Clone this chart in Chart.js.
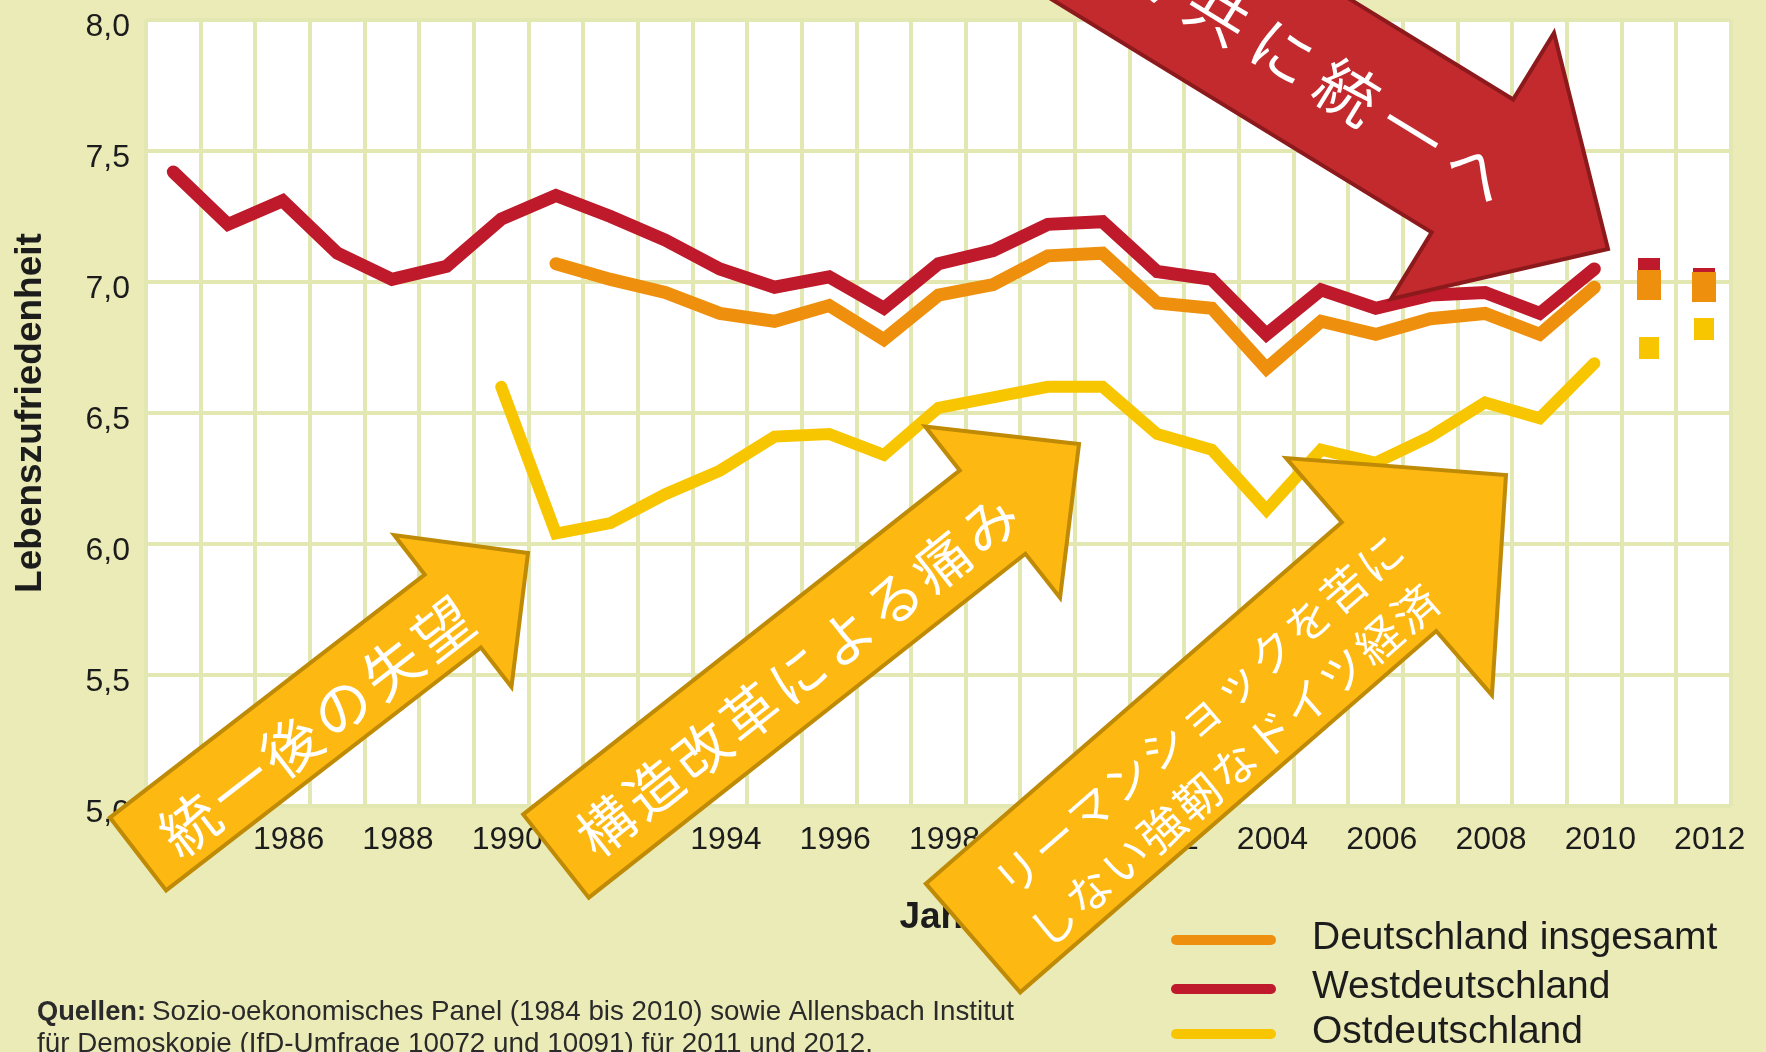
<!DOCTYPE html>
<html>
<head>
<meta charset="utf-8">
<title>Lebenszufriedenheit in Deutschland</title>
<script src="https://cdn.jsdelivr.net/npm/chart.js@4.4.1/dist/chart.umd.min.js"></script>
<style>
  html, body { margin: 0; padding: 0; background: #ebebb7; }
  #wrap { width: 1766px; height: 1052px; }
</style>
</head>
<body>
<div id="wrap"><canvas id="chart" width="1766" height="1052"></canvas></div>
<script>
// categories
const years = ['1984', '1985', '1986', '1987', '1988', '1989', '1990', '1991', '1992', '1993',
  '1994', '1995', '1996', '1997', '1998', '1999', '2000', '2001', '2002', '2003', '2004',
  '2005', '2006', '2007', '2008', '2009', '2010', '2011', '2012'];

// SOEP series (first year given separately)
const westStart = '1984';
const west = [7.42, 7.22, 7.31, 7.11, 7.01, 7.06, 7.24, 7.33, 7.25, 7.16, 7.05, 6.98, 7.02, 6.90,
  7.07, 7.12, 7.22, 7.23, 7.04, 7.01, 6.80, 6.97, 6.90, 6.95, 6.96, 6.88, 7.05];
const gesamtStart = '1991';
const gesamt = [7.07, 7.01, 6.96, 6.88, 6.85, 6.91, 6.78, 6.95, 6.99, 7.10, 7.11, 6.92, 6.90,
  6.67, 6.85, 6.80, 6.86, 6.88, 6.80, 6.98];
const ostStart = '1990';
const ost = [6.60, 6.04, 6.08, 6.19, 6.28, 6.41, 6.42, 6.34, 6.52, 6.56, 6.60, 6.60, 6.42, 6.36,
  6.13, 6.36, 6.31, 6.41, 6.54, 6.48, 6.69];

// Allensbach survey points
const surveyYears = ['2011', '2012'];
const westSurvey = [7.04, 7.00];
const gesamtSurvey = [6.99, 6.98];
const ostSurvey = [6.75, 6.82];

const yTicks = [5.0, 5.5, 6.0, 6.5, 7.0, 7.5, 8.0];

const RED = '#be1a2b';
const ORANGE = '#ee900e';
const YELLOW = '#f8c600';
const GRID = '#e3e8b3';
const INK = '#1c1c1c';
const SANS = "'Liberation Sans', Arial, sans-serif";
const JP = "'Noto Sans CJK JP', sans-serif";

function series(start, values) {
  const i0 = years.indexOf(start);
  return values.map((v, i) => ({ x: years[i0 + i], y: v }));
}

function box(w, h, color) {
  const c = document.createElement('canvas');
  c.width = w; c.height = h;
  const g = c.getContext('2d');
  g.fillStyle = color;
  g.fillRect(0, 0, w, h);
  return c;
}

// callout arrows (page pixels)
const AMBER = '#fdb812';
const AMBER_EDGE = '#bf8a05';
const arrows = [
  { tail: [138, 854], tip: [528, 553], shaft: 46, head: 96, headLen: 95, fill: AMBER, edge: AMBER_EDGE,
    lines: [{ text: '統一後の失望', at: 219, off: 8, step: 64, size: 58 }] },
  { tail: [556, 856], tip: [1079, 444], shaft: 53, head: 109, headLen: 110, fill: AMBER, edge: AMBER_EDGE,
    lines: [{ text: '構造改革による痛み', at: 302, off: 7, step: 61, size: 56 }] },
  { tail: [973, 938], tip: [1506, 475], shaft: 72, head: 157, headLen: 155, fill: AMBER, edge: AMBER_EDGE,
    lines: [{ text: 'リーマンショックを苦に', at: 317, off: -20, step: 48, size: 45 },
            { text: 'しない強靭なドイツ経済', at: 310, off: 41, step: 48, size: 45 }] },
  { tail: [791, -252], tip: [1608, 249], shaft: 78, head: 156, headLen: 159, fill: '#c22a2e', edge: '#8c1a1d',
    lines: [{ text: '揃って共に統一へ', at: 540, off: 2, step: 76, size: 62 }] }
];

function drawArrow(ctx, a) {
  const dx = a.tip[0] - a.tail[0], dy = a.tip[1] - a.tail[1];
  const L = Math.hypot(dx, dy);
  const n = L - a.headLen;
  ctx.save();
  ctx.translate(a.tail[0], a.tail[1]);
  ctx.rotate(Math.atan2(dy, dx));
  ctx.beginPath();
  ctx.moveTo(0, -a.shaft);
  ctx.lineTo(n, -a.shaft);
  ctx.lineTo(n, -a.head);
  ctx.lineTo(L, 0);
  ctx.lineTo(n, a.head);
  ctx.lineTo(n, a.shaft);
  ctx.lineTo(0, a.shaft);
  ctx.closePath();
  ctx.fillStyle = a.fill;
  ctx.fill();
  ctx.lineWidth = 4;
  ctx.lineJoin = 'miter';
  ctx.strokeStyle = a.edge;
  ctx.stroke();
  ctx.fillStyle = '#ffffff';
  ctx.textAlign = 'center';
  ctx.textBaseline = 'middle';
  a.lines.forEach(ln => {
    const chars = Array.from(ln.text);
    ctx.font = ln.size + 'px ' + JP;
    chars.forEach((ch, i) => {
      ctx.fillText(ch, ln.at + (i - (chars.length - 1) / 2) * ln.step, ln.off);
    });
  });
  ctx.restore();
}

const legendItems = [
  { label: 'Deutschland insgesamt', color: ORANGE, y: 938 },
  { label: 'Westdeutschland', color: RED, y: 987 },
  { label: 'Ostdeutschland', color: YELLOW, y: 1032 }
];

const decor = {
  id: 'decor',
  beforeDraw(chart) {
    const { ctx, chartArea: a } = chart;
    ctx.save();
    ctx.fillStyle = '#ffffff';
    ctx.fillRect(a.left, a.top, a.right - a.left, a.bottom - a.top);
    ctx.restore();
  },
  afterDraw(chart) {
    const ctx = chart.ctx;
    ctx.save();
    // legend
    legendItems.forEach(it => {
      ctx.strokeStyle = it.color;
      ctx.lineWidth = 10;
      ctx.lineCap = 'round';
      ctx.beginPath();
      ctx.moveTo(1176, it.y + 2);
      ctx.lineTo(1271, it.y + 2);
      ctx.stroke();
      ctx.fillStyle = INK;
      ctx.font = '39px ' + SANS;
      ctx.textBaseline = 'middle';
      ctx.textAlign = 'left';
      ctx.fillText(it.label, 1312, it.y);
    });
    // source note
    ctx.fillStyle = '#2a2a2a';
    ctx.textBaseline = 'middle';
    ctx.font = 'bold 28px ' + SANS;
    ctx.fillText('Quellen:', 37, 1012, 109);
    ctx.font = '28px ' + SANS;
    ctx.fillText('Sozio-oekonomisches Panel (1984 bis 2010) sowie Allensbach Institut', 152, 1012, 862);
    ctx.fillText('für Demoskopie (IfD-Umfrage 10072 und 10091) für 2011 und 2012.', 37, 1044, 836);
    ctx.restore();
    arrows.forEach(a => drawArrow(ctx, a));
  }
};

const lineStyle = { borderWidth: 13, pointRadius: 0, pointHoverRadius: 0, tension: 0,
  borderCapStyle: 'round', borderJoinStyle: 'miter', fill: false };

new Chart(document.getElementById('chart'), {
  type: 'line',
  data: {
    labels: years,
    datasets: [
      Object.assign({ label: 'Westdeutschland', data: series(westStart, west), borderColor: RED, order: 3 }, lineStyle),
      Object.assign({ label: 'Deutschland insgesamt', data: series(gesamtStart, gesamt), borderColor: ORANGE, order: 2 }, lineStyle),
      Object.assign({ label: 'Ostdeutschland', data: series(ostStart, ost), borderColor: YELLOW, order: 1 }, lineStyle, { borderWidth: 12 }),
      { label: 'West (IfD)', data: surveyYears.map((y, i) => ({ x: y, y: westSurvey[i] })), showLine: false,
        pointStyle: box(22, 28, RED), pointRadius: 12, order: 3 },
      { label: 'Gesamt (IfD)', data: surveyYears.map((y, i) => ({ x: y, y: gesamtSurvey[i] })), showLine: false,
        pointStyle: box(24, 30, ORANGE), pointRadius: 12, order: 2 },
      { label: 'Ost (IfD)', data: surveyYears.map((y, i) => ({ x: y, y: ostSurvey[i] })), showLine: false,
        pointStyle: box(20, 22, YELLOW), pointRadius: 12, order: 1 }
    ]
  },
  options: {
    responsive: false,
    animation: false,
    events: [],
    layout: { padding: { left: 0, top: 20, right: 35, bottom: 106 } },
    plugins: {
      legend: { display: false },
      tooltip: { enabled: false }
    },
    scales: {
      x: {
        type: 'category',
        offset: true,
        grid: { offset: true, color: GRID, lineWidth: 4, drawTicks: false },
        border: { display: false },
        ticks: {
          autoSkip: false, maxRotation: 0, minRotation: 0, padding: 15, labelOffset: 6, color: INK,
          font: { family: SANS, size: 32 },
          callback: (v, i) => (Number(years[i]) % 2 === 0 ? years[i] : '')
        },
        title: { display: true, text: 'Jahr', color: INK, font: { family: SANS, size: 37, weight: 'bold' },
          padding: { top: 0, bottom: 6 } },
        afterFit: s => { s.height = 140; s.paddingLeft = 0; s.paddingRight = 0; }
      },
      y: {
        min: 5, max: 8,
        afterBuildTicks: s => { s.ticks = yTicks.map(v => ({ value: v })); },
        grid: { color: GRID, lineWidth: 4, drawTicks: false },
        border: { display: false },
        ticks: {
          padding: 16, labelOffset: 7, color: INK,
          font: { family: SANS, size: 32 },
          callback: v => v.toFixed(1).replace('.', ',')
        },
        title: { display: true, text: 'Lebenszufriedenheit', color: INK,
          font: { family: SANS, size: 37, weight: 'bold' }, padding: { top: 9, bottom: 0 } },
        afterFit: s => { s.width = 146; s.paddingTop = 0; s.paddingBottom = 0; }
      }
    }
  },
  plugins: [decor]
});
</script>
</body>
</html>
